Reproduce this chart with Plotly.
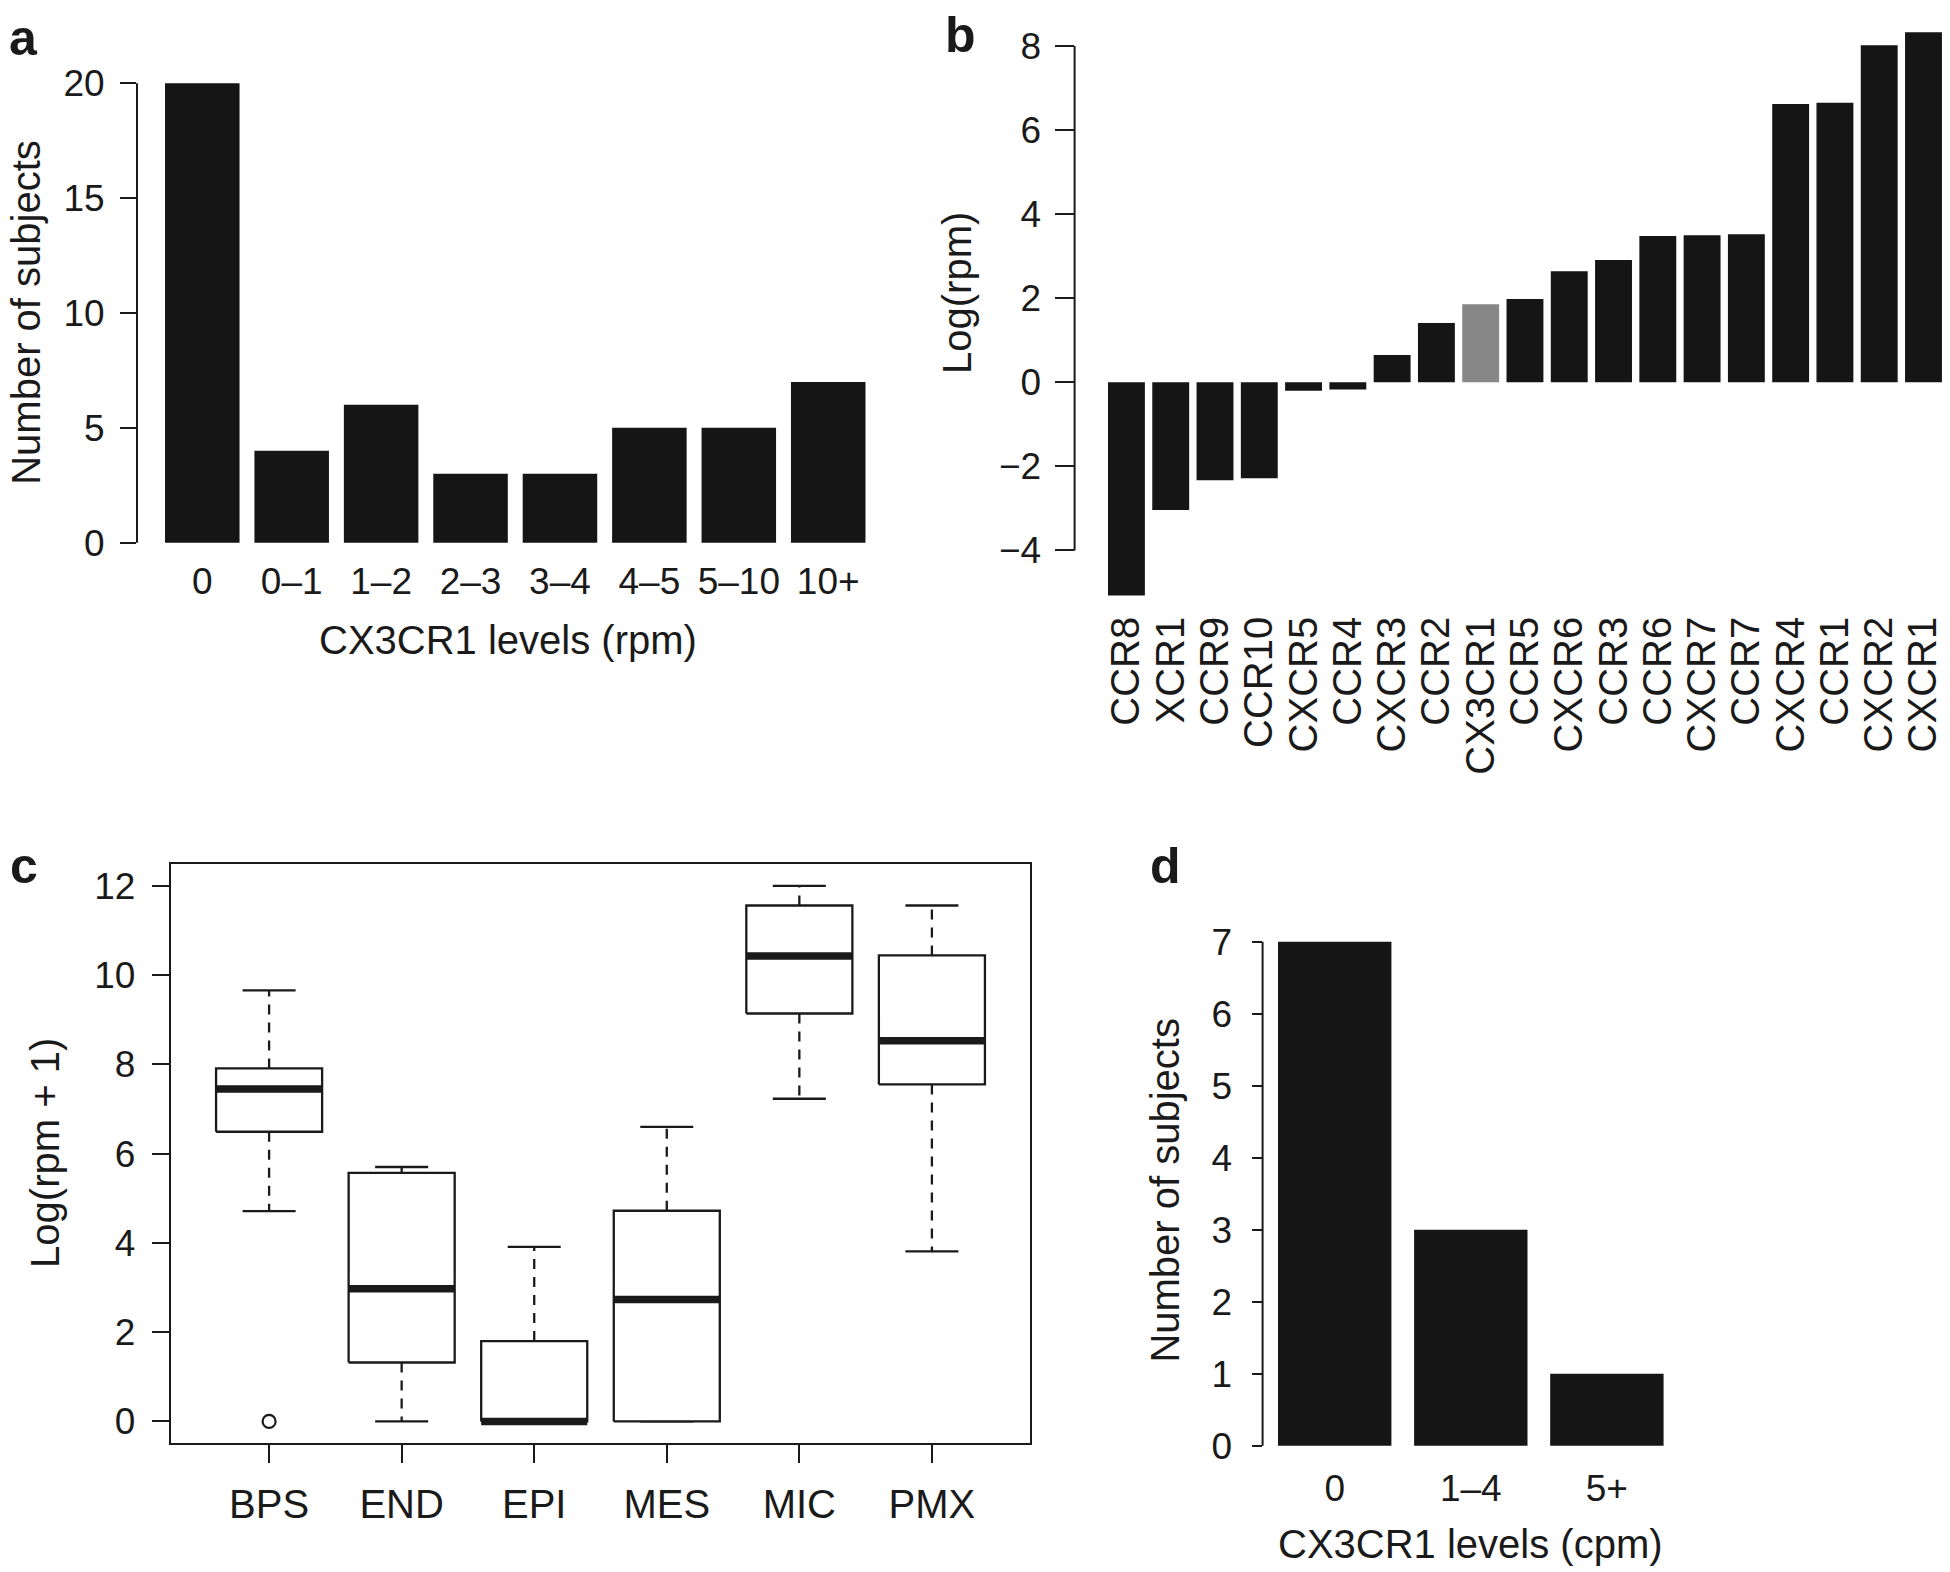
import plotly.graph_objects as go

# ---------------- data ----------------
a_categories = ["0", "0–1", "1–2", "2–3", "3–4", "4–5", "5–10", "10+"]
a_counts = [20, 4, 6, 3, 3, 5, 5, 7]
a_yticks = [0, 5, 10, 15, 20]

b_genes = ["CCR8", "XCR1", "CCR9", "CCR10", "CXCR5", "CCR4", "CXCR3", "CCR2", "CX3CR1",
           "CCR5", "CXCR6", "CCR3", "CCR6", "CXCR7", "CCR7", "CXCR4", "CCR1", "CXCR2", "CXCR1"]
b_values = [-5.07, -3.04, -2.33, -2.28, -0.20, -0.17, 0.65, 1.41, 1.86,
            1.98, 2.64, 2.91, 3.48, 3.50, 3.52, 6.62, 6.65, 8.02, 8.33]
b_highlight = "CX3CR1"
b_yticks = [-4, -2, 0, 2, 4, 6, 8]

c_groups = ["BPS", "END", "EPI", "MES", "MIC", "PMX"]
c_lower = [4.71, 0.0, 0.0, 0.0, 7.23, 3.81]
c_q1 = [6.49, 1.32, 0.0, 0.0, 9.14, 7.55]
c_median = [7.45, 2.97, 0.0, 2.73, 10.43, 8.53]
c_q3 = [7.91, 5.57, 1.80, 4.72, 11.56, 10.44]
c_upper = [9.66, 5.70, 3.91, 6.60, 12.0, 11.56]
c_outlier_groups = ["BPS"]
c_outlier_values = [0.0]
c_yticks = [0, 2, 4, 6, 8, 10, 12]

d_categories = ["0", "1–4", "5+"]
d_counts = [7, 3, 1]
d_yticks = [0, 1, 2, 3, 4, 5, 6, 7]

# ---------------- style ----------------
W, H = 1950, 1572
FONT = "Liberation Sans, Arial, Helvetica, sans-serif"
INK = "#1a1a1a"
BAR = "#151515"
GREY = "#878787"
NUM = 37
TXT = 40


def px_x(p):
    return p / W


def px_y(p):
    return 1 - p / H


def bar_pos(n):
    # R barplot positions: width 1, space 0.2
    return [0.7 + 1.2 * i for i in range(n)]


fig = go.Figure()

# ---------- panel a ----------
ax_pos = bar_pos(len(a_counts))
fig.add_trace(go.Bar(x=ax_pos, y=a_counts, width=1, marker=dict(color=BAR, line=dict(width=0)),
                     xaxis="x", yaxis="y", showlegend=False, hoverinfo="skip"))

# ---------- panel b ----------
bx_pos = bar_pos(len(b_values))
b_colors = [GREY if g == b_highlight else BAR for g in b_genes]
fig.add_trace(go.Bar(x=bx_pos, y=b_values, width=1, marker=dict(color=b_colors, line=dict(width=0)),
                     xaxis="x2", yaxis="y2", showlegend=False, hoverinfo="skip"))

# ---------- panel c (boxplots drawn from summary stats) ----------
half_box = 0.4
half_cap = 0.2
for i, g in enumerate(c_groups):
    cx = i + 1
    # whiskers (dashed)
    fig.add_trace(go.Scatter(x=[cx, cx, None, cx, cx], y=[c_q3[i], c_upper[i], None, c_q1[i], c_lower[i]],
                             mode="lines", line=dict(color=INK, width=2.3, dash="10px,8px"),
                             xaxis="x3", yaxis="y3", showlegend=False, hoverinfo="skip"))
    # caps
    fig.add_trace(go.Scatter(x=[cx - half_cap, cx + half_cap, None, cx - half_cap, cx + half_cap],
                             y=[c_upper[i], c_upper[i], None, c_lower[i], c_lower[i]],
                             mode="lines", line=dict(color=INK, width=2.3),
                             xaxis="x3", yaxis="y3", showlegend=False, hoverinfo="skip"))
    # box
    fig.add_trace(go.Scatter(x=[cx - half_box, cx + half_box, cx + half_box, cx - half_box, cx - half_box],
                             y=[c_q1[i], c_q1[i], c_q3[i], c_q3[i], c_q1[i]],
                             mode="lines", line=dict(color=INK, width=2.3), fill="toself", fillcolor="white",
                             xaxis="x3", yaxis="y3", showlegend=False, hoverinfo="skip"))
    # median
    fig.add_trace(go.Scatter(x=[cx - half_box, cx + half_box], y=[c_median[i], c_median[i]],
                             mode="lines", line=dict(color=INK, width=7.5),
                             xaxis="x3", yaxis="y3", showlegend=False, hoverinfo="skip"))
fig.add_trace(go.Scatter(x=[c_groups.index(g) + 1 for g in c_outlier_groups], y=c_outlier_values,
                         mode="markers", marker=dict(symbol="circle-open", size=13, color=INK, line=dict(width=2.2)),
                         xaxis="x3", yaxis="y3", showlegend=False, hoverinfo="skip", cliponaxis=False))

# ---------- panel d ----------
dx_pos = bar_pos(len(d_counts))
fig.add_trace(go.Bar(x=dx_pos, y=d_counts, width=1, marker=dict(color=BAR, line=dict(width=0)),
                     xaxis="x4", yaxis="y4", showlegend=False, hoverinfo="skip"))

common_y = dict(showgrid=False, zeroline=False, ticks="outside", tickcolor=INK, tickwidth=2,
                tickfont=dict(family=FONT, size=NUM, color=INK))
common_x = dict(showgrid=False, zeroline=False, ticks="", showline=False)

# geometry (pixels in the reference picture)
A = dict(l=137, r=893.5, t=64, b=556)
B = dict(l=1074.6, r=1950, t=8, b=602)
C = dict(l=171, r=1030, t=869.5, b=1452)
D = dict(l=1262.6, r=1679, t=927.2, b=1475.3)

fig.update_layout(
    width=W, height=H, margin=dict(l=0, r=0, t=0, b=0),
    paper_bgcolor="white", plot_bgcolor="white",
    font=dict(family=FONT, color=INK),
    xaxis=dict(domain=[px_x(A["l"]), px_x(A["r"])], range=[-0.176, 9.976], anchor="y",
               tickvals=ax_pos, ticktext=a_categories,
               tickfont=dict(family=FONT, size=NUM, color=INK), ticklabelstandoff=3, **common_x),
    yaxis=dict(domain=[px_y(A["b"]), px_y(A["t"])],
               range=[-(A["b"] - 545.5) / 23.13, (545.5 - A["t"]) / 23.13], anchor="x",
               tickvals=a_yticks, ticklen=16, ticklabelstandoff=8, **common_y),
    xaxis2=dict(domain=[px_x(B["l"]), px_x(B["r"])], range=[-0.705, 0.2 + (B["r"] - 1108) / 36.9], anchor="y2",
                tickvals=bx_pos, ticktext=b_genes, tickangle=-90,
                tickfont=dict(family=FONT, size=TXT, color=INK), ticklabelstandoff=9, **common_x),
    yaxis2=dict(domain=[px_y(B["b"]), px_y(B["t"])], range=[-(B["b"] - 384) / 42.33, (384 - B["t"]) / 42.33],
                anchor="x2", tickvals=b_yticks, ticktext=[f"−{abs(v)}" if v < 0 else str(v) for v in b_yticks],
                ticklen=19, ticklabelstandoff=6, **common_y),
    xaxis3=dict(domain=[px_x(C["l"]), px_x(C["r"])], range=[0.26, 6.74], anchor="y3",
                tickvals=list(range(1, len(c_groups) + 1)), ticktext=c_groups,
                showgrid=False, zeroline=False, ticks="outside", ticklen=18, tickwidth=2, tickcolor=INK,
                showline=True, linecolor=INK, linewidth=2.3, mirror=True,
                tickfont=dict(family=FONT, size=TXT, color=INK), ticklabelstandoff=7),
    yaxis3=dict(domain=[px_y(C["b"]), px_y(C["t"])], range=[-0.48, 12.48], anchor="x3",
                tickvals=c_yticks, ticklen=17, showline=True, linecolor=INK, linewidth=2.3, mirror=True,
                ticklabelstandoff=9, **common_y),
    xaxis4=dict(domain=[px_x(D["l"]), px_x(D["r"])], range=[0.064, 3.736], anchor="y4",
                tickvals=dx_pos, ticktext=d_categories,
                tickfont=dict(family=FONT, size=NUM, color=INK), ticklabelstandoff=-3, **common_x),
    yaxis4=dict(domain=[px_y(D["b"]), px_y(D["t"])], range=[-0.28, 7.28], anchor="x4",
                tickvals=d_yticks, ticklen=10, ticklabelstandoff=12, **common_y),
)

# R-style axis spines spanning first to last tick
shapes = []
for xl, yref, ticks in [(A["l"], "y", a_yticks), (B["l"], "y2", b_yticks), (D["l"], "y4", d_yticks)]:
    shapes.append(dict(type="line", xref="paper", yref=yref, x0=px_x(xl), x1=px_x(xl),
                       y0=min(ticks), y1=max(ticks), line=dict(color=INK, width=2)))
fig.update_layout(shapes=shapes)

ann = []


def add_text(text, x, y, size=TXT, angle=0, bold=False):
    ann.append(dict(text=f"<b>{text}</b>" if bold else text, x=px_x(x), y=px_y(y), xref="paper", yref="paper",
                    showarrow=False, textangle=angle, xanchor="center", yanchor="middle",
                    font=dict(family=FONT, size=size, color=INK)))


# axis titles
add_text("CX3CR1 levels (rpm)", 508, 644)
add_text("Number of subjects", 26, 314, angle=-90)
add_text("Log(rpm)", 957, 294, angle=-90)
add_text("Log(rpm + 1)", 45, 1160, angle=-90)
add_text("CX3CR1 levels (cpm)", (D["l"] + D["r"]) / 2, 1554)
add_text("Number of subjects", 1165, 1198, angle=-90)
# panel letters
add_text("a", 23, 37, size=50, bold=True)
add_text("b", 960, 34, size=50, bold=True)
add_text("c", 24, 871, size=50, bold=True)
add_text("d", 1165, 871, size=50, bold=True)
fig.update_layout(annotations=ann)

# remove the browser's default 8px body margin so the page matches the figure's pixel grid
fig.write_html("out.html", config={"displayModeBar": False, "staticPlot": True},
               post_script="document.body.style.margin='0px';")
